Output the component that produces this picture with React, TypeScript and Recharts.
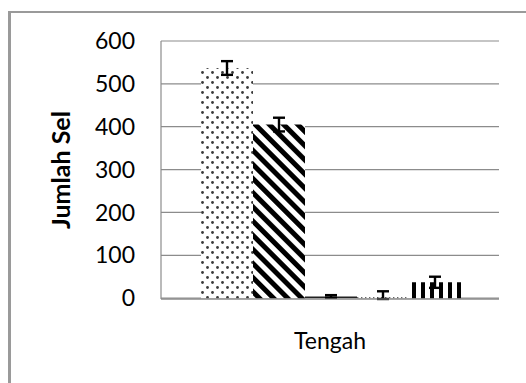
import { BarChart, Bar, XAxis, YAxis, CartesianGrid, ErrorBar } from "recharts";

const categories = ["Tengah"];
const seriesKeys = ["s1", "s2", "s3", "s4", "s5"];
const seriesValues = [[537], [405], [4], [7], [37]];
const seriesErrors = [[16], [16], [3], [9], [13]];
const yTicks = [0, 100, 200, 300, 400, 500, 600];
const fills = ["url(#dots)", "url(#diag)", "url(#hlines)", "url(#smalldots)", "url(#vlines)"];

const data = categories.map((name, i) => {
  const row: Record<string, string | number> = { name };
  seriesKeys.forEach((k, s) => {
    row[k] = seriesValues[s][i];
    row[k + "Err"] = seriesErrors[s][i];
  });
  return row;
});

const FONT = "Lato, 'Liberation Sans', sans-serif";

function Patterns() {
  return (
    <svg width={0} height={0} style={{ position: "absolute" }}>
      <defs>
        <pattern id="dots" width={10} height={10} patternUnits="userSpaceOnUse">
          <rect width={10} height={10} fill="#fff" />
          <circle cx={2.5} cy={2.5} r={1.4} fill="#3a3a3a" />
          <circle cx={7.5} cy={7.5} r={1.4} fill="#3a3a3a" />
        </pattern>
        <pattern id="diag" width={10} height={10} patternUnits="userSpaceOnUse" patternTransform="rotate(-45)">
          <rect width={10} height={10} fill="#fff" />
          <rect x={0} width={5} height={10} fill="#000" />
        </pattern>
        <pattern id="hlines" width={4} height={4} patternUnits="userSpaceOnUse">
          <rect width={4} height={4} fill="#fff" />
          <rect width={4} height={2} fill="#222" />
        </pattern>
        <pattern id="smalldots" width={4} height={4} patternUnits="userSpaceOnUse">
          <rect width={4} height={4} fill="#fff" />
          <rect x={1} y={1} width={1.4} height={1.4} fill="#666" />
        </pattern>
        <pattern id="vlines" width={9} height={9} patternUnits="userSpaceOnUse">
          <rect width={9} height={9} fill="#fff" />
          <rect x={7} width={4} height={9} fill="#000" />
          <rect x={-2} width={4} height={9} fill="#000" />
        </pattern>
      </defs>
    </svg>
  );
}

export default function App() {
  return (
    <div
      style={{
        position: "absolute",
        left: 0,
        top: 0,
        width: 526,
        height: 383,
        overflow: "hidden",
        background: "#fff",
        fontFamily: FONT,
      }}
    >
      <Patterns />
      <div
        style={{
          position: "absolute",
          left: 8,
          top: 11,
          width: 600,
          height: 500,
          borderTop: "2px solid #9a9a9a",
          borderLeft: "3px solid #9a9a9a",
        }}
      />
      <div style={{ position: "absolute", left: 0, top: 0 }}>
        <BarChart
          width={526}
          height={383}
          data={data}
          margin={{ top: 41, right: 27, bottom: 44, left: 0 }}
          barCategoryGap={40}
          barGap={0}
        >
          <CartesianGrid vertical={false} stroke="#8c8c8c" strokeWidth={1.2} />
          <XAxis
            dataKey="name"
            height={40}
            axisLine={{ stroke: "#8c8c8c", strokeWidth: 1.2 }}
            tickLine={false}
            tickSize={0}
            tickMargin={34}
            tick={{ fill: "#000", fontSize: 23, fontFamily: FONT }}
          />
          <YAxis
            width={161}
            domain={[0, 600]}
            ticks={yTicks}
            interval={0}
            axisLine={{ stroke: "#8c8c8c", strokeWidth: 1.2 }}
            tickLine={false}
            tickSize={0}
            tickMargin={26}
            tick={{ fill: "#000", fontSize: 23, fontFamily: FONT }}
            label={{
              content: ({ viewBox }: any) => {
                const cx = viewBox.x + 60;
                const cy = viewBox.y + viewBox.height / 2;
                return (
                  <text
                    x={cx}
                    y={cy}
                    transform={`rotate(-90 ${cx} ${cy})`}
                    textAnchor="middle"
                    dominantBaseline="central"
                    fontSize={25}
                    fontWeight="bold"
                    fontFamily={FONT}
                    fill="#000"
                  >
                    Jumlah Sel
                  </text>
                );
              },
            }}
          />
          {seriesKeys.map((k, s) => (
            <Bar key={k} dataKey={k} fill={fills[s]} isAnimationActive={false}>
              <ErrorBar dataKey={k + "Err"} width={6} strokeWidth={2.4} stroke="#000" direction="y" />
            </Bar>
          ))}
        </BarChart>
      </div>
    </div>
  );
}
